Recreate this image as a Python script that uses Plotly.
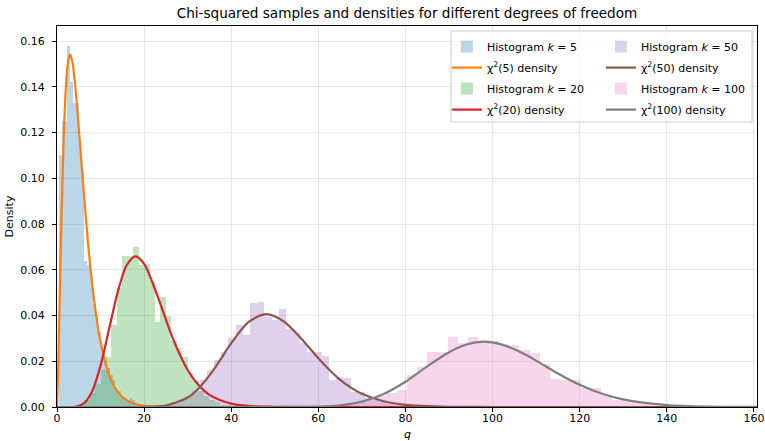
import plotly.graph_objects as go

# ---------------- data ----------------
title_text = "Chi-squared samples and densities for different degrees of freedom"
dofs = [5, 20, 50, 100]

# histogram bins (start, width) and heights (density)
hist5_start, hist5_width = 0.4, 0.65
hist5_heights = [0.110, 0.125, 0.125, 0.158, 0.142, 0.133, 0.133, 0.116, 0.103, 0.064,
                 0.062, 0.057, 0.045, 0.040, 0.033, 0.025, 0.022, 0.017, 0.014, 0.012,
                 0.008, 0.007, 0.005, 0.004, 0.003, 0.004, 0.003, 0.001, 0.001, 0.0005,
                 0.0005, 0.0, 0.0005]

hist20_start, hist20_width = 5.0, 1.25
hist20_heights = [0.001, 0.003, 0.006, 0.010, 0.016, 0.022, 0.036, 0.052, 0.066, 0.066,
                  0.0698, 0.062, 0.0625, 0.055, 0.037, 0.048, 0.040, 0.029, 0.026, 0.022,
                  0.015, 0.012, 0.007, 0.005, 0.003, 0.002, 0.001, 0.0008, 0.0005, 0.0003]

hist50_start, hist50_width = 24.5, 1.65
hist50_heights = [0.001, 0.002, 0.003, 0.005, 0.007, 0.0118, 0.016, 0.0205, 0.024, 0.030,
                  0.0358, 0.0315, 0.0456, 0.046, 0.0395, 0.038, 0.0427, 0.034, 0.0325, 0.0278,
                  0.0242, 0.0242, 0.0223, 0.0118, 0.013, 0.0125, 0.0067, 0.0067, 0.004, 0.003,
                  0.002, 0.0015, 0.001, 0.0008, 0.0005]

hist100_start, hist100_width = 61.5, 2.35
hist100_heights = [0.0005, 0.001, 0.0015, 0.002, 0.003, 0.005, 0.006, 0.0074, 0.014, 0.0176,
                   0.0239, 0.0239, 0.0305, 0.0281, 0.0305, 0.029, 0.029, 0.0275, 0.027, 0.0249,
                   0.0235, 0.019, 0.0121, 0.012, 0.0118, 0.0082, 0.0082, 0.0052, 0.003, 0.003,
                   0.002, 0.0015, 0.001, 0.0005, 0.0005]

# density curves, points
pdf5_q = [0, 0.25, 0.5, 1, 1.5, 2, 2.5, 3, 3.5, 4, 5, 6, 7, 8, 9, 10, 12, 14, 16, 18, 20, 25, 30, 160.7]
pdf5_d = [0, 0.0147, 0.0366, 0.0807, 0.1154, 0.1384, 0.1506, 0.1542, 0.1513, 0.1440, 0.1220,
          0.0973, 0.0744, 0.0551, 0.0399, 0.0283, 0.0137, 0.0064, 0.0029, 0.0013, 0.0005,
          0.0001, 0, 0]

pdf20_q = [0, 4, 6, 8, 10, 12, 14, 16, 18, 20, 22, 24, 26, 28, 30, 32, 35, 40, 45, 50, 60, 160.7]
pdf20_d = [0, 0.0001, 0.00135, 0.0066, 0.0181, 0.0344, 0.0507, 0.0620, 0.0659, 0.0626, 0.0540,
           0.0437, 0.0330, 0.0237, 0.0162, 0.0107, 0.0053, 0.0015, 0.0003, 0.0001, 0, 0]

pdf50_q = [0, 15, 20, 25, 30, 32.5, 35, 37.5, 40, 44, 48, 52, 56, 60, 62.5, 65, 67.5, 70, 75,
           80, 90, 100, 110, 160.7]
pdf50_d = [0, 0, 0.00004, 0.00064, 0.00415, 0.0081, 0.0138, 0.0207, 0.0279, 0.0372, 0.0406,
           0.0375, 0.0301, 0.0213, 0.0163, 0.0119, 0.0085, 0.0058, 0.0025, 0.00096, 0.00011,
           0.00001, 0, 0]

pdf100_q = [0, 50, 60, 65, 70, 75, 80, 85, 90, 94, 98, 102, 106, 110, 115, 120, 125, 130, 140,
            150, 160.7]
pdf100_d = [0, 0, 0.00018, 0.00076, 0.00237, 0.00571, 0.01105, 0.01774, 0.02394, 0.02731,
            0.02855, 0.02739, 0.02433, 0.02029, 0.01467, 0.00971, 0.00588, 0.0033, 0.00084,
            0.00017, 0.00002]

x_ticks = [0, 20, 40, 60, 80, 100, 120, 140, 160]
y_ticks = [0.00, 0.02, 0.04, 0.06, 0.08, 0.10, 0.12, 0.14, 0.16]
x_range = [0, 160.7]
y_range = [0, 0.1666]

# ---------------- styling ----------------
hist_colors = ["rgba(31,119,180,0.3)", "rgba(44,160,44,0.3)",
               "rgba(148,103,189,0.3)", "rgba(227,119,194,0.3)"]
line_colors = ["#ff7f0e", "#d62728", "#8c564b", "#7f7f7f"]
legend_ids = ["legend", "legend", "legend2", "legend2"]

hists = [(hist5_start, hist5_width, hist5_heights),
         (hist20_start, hist20_width, hist20_heights),
         (hist50_start, hist50_width, hist50_heights),
         (hist100_start, hist100_width, hist100_heights)]
pdfs = [(pdf5_q, pdf5_d), (pdf20_q, pdf20_d), (pdf50_q, pdf50_d), (pdf100_q, pdf100_d)]

FONT = "DejaVu Sans"
fig = go.Figure()
for i, k in enumerate(dofs):
    start, width, heights = hists[i]
    centers = [start + width * (j + 0.5) for j in range(len(heights))]
    fig.add_trace(go.Bar(
        x=centers, y=heights, width=[width] * len(heights),
        marker=dict(color=hist_colors[i], line=dict(width=0)),
        name=f"Histogram <i>k</i> = {k}", legend=legend_ids[i],
        legendgroup=f"h{k}",
    ))
    q, d = pdfs[i]
    fig.add_trace(go.Scatter(
        x=q, y=d, mode="lines",
        line=dict(color=line_colors[i], width=2.2, shape="spline", smoothing=0.8),
        name=f"χ<sup>2</sup>({k}) density", legend=legend_ids[i],
        legendgroup=f"c{k}",
    ))

axis_common = dict(
    showline=True, mirror=True, linecolor="black", linewidth=1,
    ticks="outside", ticklen=4, tickcolor="black", tickwidth=1,
    showgrid=True, gridcolor="rgba(176,176,176,0.3)", gridwidth=1,
    zeroline=False, tickfont=dict(size=11, color="black", family=FONT),
    automargin=False,
)
fig.update_xaxes(range=x_range, tickvals=x_ticks, ticklabelstandoff=-3, **axis_common)
fig.update_yaxes(range=y_range, tickvals=y_ticks, tickformat=".2f", ticklabelstandoff=5,
                 title=dict(text="Density", font=dict(size=11, family=FONT), standoff=4),
                 **axis_common)

legend_common = dict(
    orientation="v", yanchor="top", xanchor="left", y=0.984,
    bgcolor="rgba(0,0,0,0)", borderwidth=0,
    font=dict(size=11, family=FONT, color="black"),
    traceorder="grouped", tracegroupgap=2,
)

fig.update_layout(
    width=765, height=441,
    margin=dict(l=57, r=8, t=26, b=34),
    paper_bgcolor="white", plot_bgcolor="white",
    barmode="overlay", bargap=0,
    font=dict(family=FONT, size=11, color="black"),
    title=dict(text=title_text, x=0.5, xref="paper", xanchor="center",
               y=1 - 13 / 441, yanchor="middle", font=dict(size=13.6, family=FONT, color="black")),
    legend=dict(x=0.557, **legend_common),
    legend2=dict(x=0.777, **legend_common),
    showlegend=True,
    shapes=[dict(type="rect", xref="paper", yref="paper", x0=0.5629, x1=0.9929,
                 y0=0.748, y1=0.9869, layer="above",
                 fillcolor="rgba(255,255,255,0.8)", line=dict(color="#cccccc", width=1))],
    annotations=[dict(text="<i>q</i>", xref="paper", yref="paper", x=0.5, y=-27 / 381,
                      xanchor="center", yanchor="middle", showarrow=False,
                      font=dict(size=11, family=FONT, color="black"))],
)

fig.write_html("out.html", config={"displayModeBar": False},
               post_script="document.body.style.margin='0';document.body.style.overflow='hidden';")
